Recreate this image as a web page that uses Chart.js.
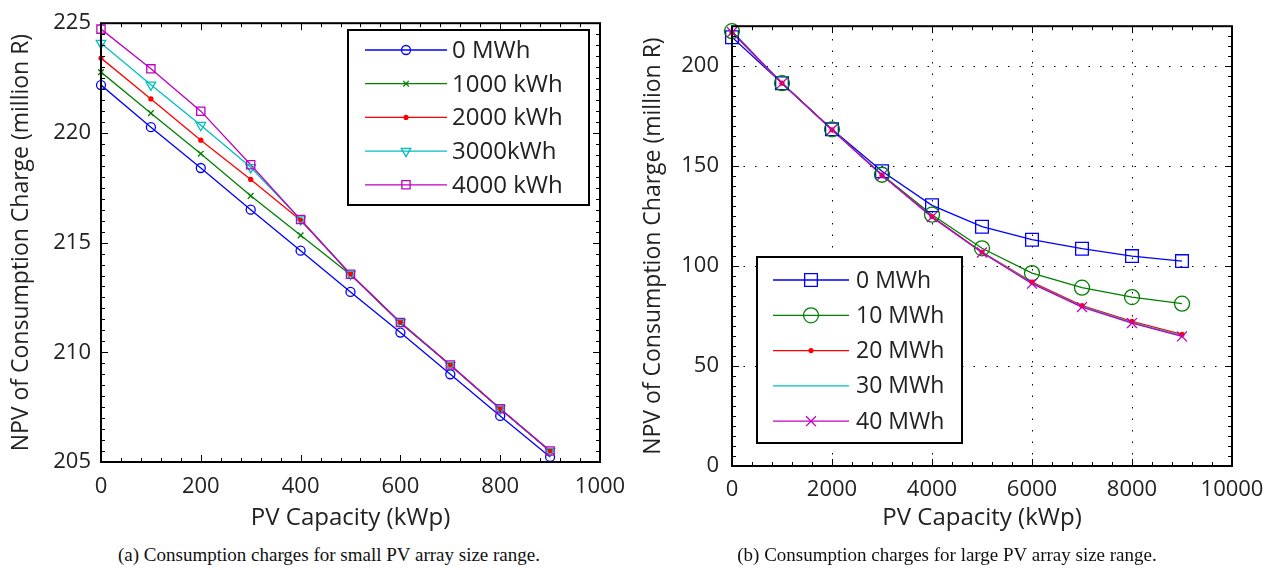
<!DOCTYPE html>
<html>
<head>
<meta charset="utf-8">
<title>NPV of Consumption Charge</title>
<script src="https://cdn.jsdelivr.net/npm/chart.js@4/dist/chart.umd.min.js"></script>
<style>
    body { margin: 0; background: #fff; width: 1275px; height: 570px; position: relative; overflow: hidden; }
    #wrapA { position: absolute; left: 0; top: 0; width: 650px; height: 540px; }
    #wrapB { position: absolute; left: 640px; top: 0; width: 635px; height: 540px; }
    .caption { position: absolute; top: 543px; font-family: "Liberation Serif", serif; font-size: 19px; line-height: 24px; color: #111; white-space: nowrap; transform: translateX(-50%); }
</style>
</head>
<body>
<div id="wrapA"><canvas id="chartA"></canvas></div>
<div id="wrapB"><canvas id="chartB"></canvas></div>
<div class="caption" style="left: 329px;">(a) Consumption charges for small PV array size range.</div>
<div class="caption" style="left: 947px;">(b) Consumption charges for large PV array size range.</div>
<script>
// ---- data: small PV array range (a) ----
const pvSmall = [0, 100, 200, 300, 400, 500, 600, 700, 800, 900];
const small0 = [222.18, 220.26, 218.40, 216.50, 214.63, 212.75, 210.90, 209.00, 207.10, 205.23];
const small1000 = [222.77, 220.90, 219.05, 217.13, 215.33, 213.54, 211.34, 209.41, 207.42, 205.49];
const small2000 = [223.41, 221.55, 219.67, 217.88, 216.02, 213.56, 211.36, 209.42, 207.43, 205.50];
const small3000 = [224.09, 222.19, 220.35, 218.43, 216.05, 213.56, 211.36, 209.42, 207.43, 205.50];
const small4000 = [224.73, 222.92, 220.99, 218.55, 216.05, 213.56, 211.36, 209.42, 207.43, 205.50];
const xTicksSmall = [0, 200, 400, 600, 800, 1000];
const yTicksSmall = [205, 210, 215, 220, 225];

// ---- data: large PV array range (b) ----
const pvLarge = [0, 1000, 2000, 3000, 4000, 5000, 6000, 7000, 8000, 9000];
const large0 = [214.5, 191.5, 168.4, 147.4, 130.4, 119.7, 113.2, 108.7, 105.0, 102.5];
const large10 = [217.5, 191.5, 168.4, 145.7, 125.7, 108.9, 96.5, 89.2, 84.5, 81.2];
const large20 = [217.0, 191.5, 168.2, 145.5, 124.8, 107.0, 92.0, 80.2, 72.3, 65.8];
const large30 = [217.0, 191.5, 168.2, 145.5, 124.6, 106.9, 91.5, 79.8, 71.8, 65.2];
const large40 = [217.0, 191.5, 168.2, 145.4, 124.5, 106.8, 91.2, 79.5, 71.5, 64.8];
const xTicksLarge = [0, 2000, 4000, 6000, 8000, 10000];
const yTicksLarge = [0, 50, 100, 150, 200];

const FONT = "'Open Sans', 'Noto Sans', sans-serif";
const TEXT = "#222";

// Draw one marker (own helper so the legend and chart look the same)
function drawMarker(ctx, style, x, y, r, color, rotation) {
    ctx.save();
    ctx.strokeStyle = color;
    ctx.fillStyle = color;
    ctx.lineWidth = 1.3;
    ctx.beginPath();
    if (style === "circle") {
        ctx.arc(x, y, r, 0, Math.PI * 2);
        ctx.stroke();
    } else if (style === "dot") {
        ctx.arc(x, y, r, 0, Math.PI * 2);
        ctx.fill();
    } else if (style === "rect") {
        const s = r * Math.SQRT1_2;
        ctx.rect(x - s, y - s, 2 * s, 2 * s);
        ctx.stroke();
    } else if (style === "crossRot") {
        const s = r * Math.SQRT1_2;
        ctx.moveTo(x - s, y - s); ctx.lineTo(x + s, y + s);
        ctx.moveTo(x - s, y + s); ctx.lineTo(x + s, y - s);
        ctx.stroke();
    } else if (style === "triangle") {
        const dir = rotation === 180 ? 1 : -1;
        ctx.moveTo(x, y + dir * r);
        ctx.lineTo(x + r * 0.866, y - dir * r * 0.5);
        ctx.lineTo(x - r * 0.866, y - dir * r * 0.5);
        ctx.closePath();
        ctx.stroke();
    }
    ctx.restore();
}

// Build a dataset; markers are drawn through our plugin at the scale positions
function makeSet(label, xs, ys, color, marker, radius, rotation) {
    return {
        label: label,
        data: xs.map((x, i) => ({ x: x, y: ys[i] })),
        borderColor: color,
        backgroundColor: color,
        borderWidth: 1.3,
        pointRadius: 0,
        fill: false,
        tension: 0,
        marker: marker,
        markerRadius: radius,
        markerRotation: rotation || 0
    };
}

// Plugin: frame, inward MATLAB style ticks, dotted grid, markers and boxed legend
const matlabAxes = {
    id: "matlabAxes",
    beforeDatasetsDraw(chart, args, opts) {
        if (!opts.grid) return;
        const { ctx, chartArea: a, scales: { x, y } } = chart;
        ctx.save();
        ctx.strokeStyle = "#000";
        ctx.lineWidth = 1;
        ctx.setLineDash([1.5, 10]);
        opts.xTicks.forEach(v => {
            const px = Math.round(x.getPixelForValue(v)) + 0.5;
            ctx.beginPath(); ctx.moveTo(px, a.bottom); ctx.lineTo(px, a.top); ctx.stroke();
        });
        opts.yTicks.forEach(v => {
            const py = Math.round(y.getPixelForValue(v)) + 0.5;
            ctx.beginPath(); ctx.moveTo(a.left, py); ctx.lineTo(a.right, py); ctx.stroke();
        });
        ctx.restore();
    },
    afterDatasetsDraw(chart, args, opts) {
        const { ctx, chartArea: a, scales: { x, y } } = chart;

        // markers, drawn last dataset on top
        chart.data.datasets.forEach(ds => {
            if (!ds.marker) return;
            ds.data.forEach(p => {
                drawMarker(ctx, ds.marker, x.getPixelForValue(p.x), y.getPixelForValue(p.y),
                    ds.markerRadius, ds.borderColor, ds.markerRotation);
            });
        });

        // inward ticks on all four sides
        ctx.save();
        ctx.strokeStyle = "#000";
        ctx.lineWidth = 1;
        for (let v = x.min; v <= x.max + 1e-9; v += opts.xMinor) {
            const px = Math.round(x.getPixelForValue(v)) + 0.5;
            const len = opts.xTicks.includes(Math.round(v)) ? 7 : 4;
            ctx.beginPath();
            ctx.moveTo(px, a.bottom); ctx.lineTo(px, a.bottom - len);
            ctx.moveTo(px, a.top); ctx.lineTo(px, a.top + len);
            ctx.stroke();
        }
        for (let v = y.min; v <= y.max + 1e-9; v += opts.yMinor) {
            const py = Math.round(y.getPixelForValue(v)) + 0.5;
            const major = opts.yTicks.some(t => Math.abs(t - v) < 1e-6);
            const len = major ? 7 : 4;
            ctx.beginPath();
            ctx.moveTo(a.left, py); ctx.lineTo(a.left + len, py);
            ctx.moveTo(a.right, py); ctx.lineTo(a.right - len, py);
            ctx.stroke();
        }

        // frame
        ctx.lineWidth = 2;
        ctx.strokeRect(a.left, a.top, a.right - a.left, a.bottom - a.top);

        // legend box
        const lg = opts.legend;
        ctx.fillStyle = "#fff";
        ctx.fillRect(lg.left, lg.top, lg.width, lg.height);
        ctx.strokeStyle = "#000";
        ctx.lineWidth = 2;
        ctx.strokeRect(lg.left, lg.top, lg.width, lg.height);
        ctx.font = lg.fontSize + "px " + FONT;
        ctx.textBaseline = "middle";
        ctx.textAlign = "left";
        chart.data.datasets.forEach((ds, i) => {
            const ry = lg.firstRow + i * lg.rowGap;
            ctx.strokeStyle = ds.borderColor;
            ctx.lineWidth = 1.3;
            ctx.beginPath();
            ctx.moveTo(lg.lineStart, ry); ctx.lineTo(lg.lineEnd, ry);
            ctx.stroke();
            if (ds.marker) {
                drawMarker(ctx, ds.marker, (lg.lineStart + lg.lineEnd) / 2, ry,
                    ds.markerRadius, ds.borderColor, ds.markerRotation);
            }
            ctx.fillStyle = TEXT;
            ctx.fillText(ds.label, lg.textX, ry + 1);
        });
        ctx.restore();
    }
};

// Common axis options
function axes(opt) {
    return {
        x: {
            type: "linear",
            min: opt.xMin, max: opt.xMax,
            grid: { display: false, drawTicks: false },
            border: { display: false },
            afterBuildTicks: s => { s.ticks = opt.xTicks.map(v => ({ value: v })); },
            afterFit: s => { s.height = opt.xHeight; },
            ticks: { color: TEXT, padding: opt.xPad, maxRotation: 0, callback: v => String(v), font: { family: FONT, size: 22 } },
            title: { display: true, text: "PV Capacity (kWp)", color: TEXT, padding: { top: 0, bottom: opt.xTitlePad }, font: { family: FONT, size: 24 } }
        },
        y: {
            type: "linear",
            min: opt.yMin, max: opt.yMax,
            grid: { display: false, drawTicks: false },
            border: { display: false },
            afterBuildTicks: s => { s.ticks = opt.yTicks.map(v => ({ value: v })); },
            afterFit: s => { s.width = opt.yWidth; },
            ticks: { color: TEXT, padding: opt.yPad, callback: v => String(v), font: { family: FONT, size: 22 } },
            title: { display: true, text: "NPV of Consumption Charge (million R)", color: TEXT, padding: { top: opt.yTitlePad, bottom: 0 }, font: { family: FONT, size: 23 } }
        }
    };
}

// Chart (a): small PV array size range
const chartA = new Chart(document.getElementById("chartA").getContext("2d"), {
    type: "line",
    data: {
        datasets: [
            makeSet("0 MWh", pvSmall, small0, "#0000ff", "circle", 4.5),
            makeSet("1000 kWh", pvSmall, small1000, "#008000", "crossRot", 4),
            makeSet("2000 kWh", pvSmall, small2000, "#ff0000", "dot", 2.6),
            makeSet("3000kWh", pvSmall, small3000, "#00bfbf", "triangle", 5.5, 180),
            makeSet("4000 kWh", pvSmall, small4000, "#bf00bf", "rect", 5.8)
        ].map((d, i) => Object.assign(d, { order: 4 - i }))
    },
    options: {
        responsive: true,
        maintainAspectRatio: false,
        animation: false,
        layout: { padding: { left: 0, right: 50, top: 16, bottom: 0 } },
        plugins: {
            legend: { display: false },
            tooltip: { enabled: false },
            matlabAxes: {
                grid: false,
                xTicks: xTicksSmall, yTicks: yTicksSmall, xMinor: 40, yMinor: 0.5,
                legend: { left: 348, top: 30, width: 241, height: 175, firstRow: 50, rowGap: 33.7, lineStart: 365, lineEnd: 447, textX: 452, fontSize: 24 }
            }
        },
        scales: axes({ xMin: 0, xMax: 1000, yMin: 205, yMax: 225, xTicks: xTicksSmall, yTicks: yTicksSmall,
            xHeight: 78, yWidth: 101, xPad: 12, yPad: 10, xTitlePad: 7, yTitlePad: 8 })
    },
    plugins: [matlabAxes]
});

// Chart (b): large PV array size range
const chartB = new Chart(document.getElementById("chartB").getContext("2d"), {
    type: "line",
    data: {
        datasets: [
            makeSet("0 MWh", pvLarge, large0, "#0000ff", "rect", 9),
            makeSet("10 MWh", pvLarge, large10, "#008000", "circle", 7.5),
            makeSet("20 MWh", pvLarge, large20, "#ff0000", "dot", 2.6),
            makeSet("30 MWh", pvLarge, large30, "#00bfbf", null, 0),
            makeSet("40 MWh", pvLarge, large40, "#bf00bf", "crossRot", 7)
        ].map((d, i) => Object.assign(d, { order: 4 - i }))
    },
    options: {
        responsive: true,
        maintainAspectRatio: false,
        animation: false,
        layout: { padding: { left: 0, right: 43, top: 25, bottom: 0 } },
        plugins: {
            legend: { display: false },
            tooltip: { enabled: false },
            matlabAxes: {
                grid: true,
                xTicks: xTicksLarge, yTicks: yTicksLarge, xMinor: 400, yMinor: 5,
                legend: { left: 117, top: 257, width: 205, height: 186, firstRow: 280, rowGap: 35.3, lineStart: 133, lineEnd: 209, textX: 216, fontSize: 23 }
            }
        },
        scales: axes({ xMin: 0, xMax: 10000, yMin: 0, yMax: 220, xTicks: xTicksLarge, yTicks: yTicksLarge,
            xHeight: 74, yWidth: 92, xPad: 11, yPad: 13, xTitlePad: 7, yTitlePad: 0 })
    },
    plugins: [matlabAxes]
});
</script>
</body>
</html>
